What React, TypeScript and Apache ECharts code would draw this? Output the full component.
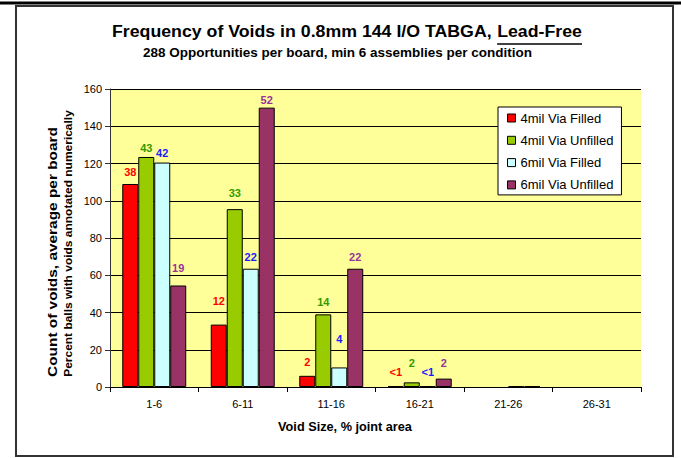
import React, { useEffect, useRef } from "react";
import * as echarts from "echarts";

const categories = ["1-6", "6-11", "11-16", "16-21", "21-26", "26-31"];
const seriesNames = ["4mil Via Filled", "4mil Via Unfilled", "6mil Via Filled", "6mil Via Unfilled"];
const via4Filled = [109, 33.5, 6, 0.5, 0, 0];
const via4Unfilled = [123.5, 95.5, 39, 2.5, 0, 0];
const via6Filled = [120.5, 63.5, 10.5, 0.4, 0.4, 0];
const via6Unfilled = [54.5, 150, 63.5, 4.5, 0.4, 0];
const pct4Filled = ["38", "12", "2", "<1", "", ""];
const pct4Unfilled = ["43", "33", "14", "2", "", ""];
const pct6Filled = ["42", "22", "4", "<1", "", ""];
const pct6Unfilled = ["19", "52", "22", "2", "", ""];
const yTicks = { min: 0, max: 160, interval: 20 };

// label distances (px above bar top), per series then category; layout only
const labelLift = [
  [6, 18, 8, 9],
  [3, 11, 7, 14],
  [4, 6, 23, 9],
  [12, 2, 6, 10],
];

const barColors = ["#ff0000", "#99cc00", "#ccffff", "#993366"];
const labelColors = ["#ff0000", "#339900", "#1a1aff", "#993399"];

const FONT = "'Liberation Sans', Arial, sans-serif";

function measure(text: string, font: string): number {
  const c = document.createElement("canvas").getContext("2d");
  if (!c) return text.length * 8;
  c.font = font;
  return c.measureText(text).width;
}

export default function App() {
  const ref = useRef<HTMLDivElement>(null);
  useEffect(() => {
    if (!ref.current) return;
    const chart = echarts.init(ref.current, undefined, { renderer: "svg" });
    const values = [via4Filled, via4Unfilled, via6Filled, via6Unfilled];
    const pcts = [pct4Filled, pct4Unfilled, pct6Filled, pct6Unfilled];

    const titleFont = "bold 17px " + FONT;
    const t1 = "Frequency of Voids in 0.8mm 144 I/O TABGA, ";
    const t2 = "Lead-Free";
    const w1 = measure(t1, titleFont);
    const w2 = measure(t2, titleFont);
    const titleLeft = 112;
    const titleRight = 582;
    const ts = (titleRight - titleLeft) / (w1 + w2);

    const fitText = (
      text: string,
      font: string,
      x: number,
      y: number,
      target: number,
      rotation = 0
    ) => ({
      type: "text",
      x,
      y,
      rotation,
      scaleX: target / measure(text, font),
      style: { text, font, fill: "#000", textAlign: "center", textVerticalAlign: "middle" },
    });

    const series = values.map((vals, si) => ({
      name: seriesNames[si],
      type: "bar",
      barGap: "0%",
      barCategoryGap: "27.7%",
      itemStyle: { color: barColors[si], borderColor: "#000", borderWidth: 1 },
      data: vals.map((v, ci) => {
        const lift = labelLift[si][ci] !== undefined ? labelLift[si][ci] : 5;
        return {
          value: v === 0 ? null : v,
          label: {
            show: pcts[si][ci] !== "",
            position: "top",
            distance: lift,
            formatter: pcts[si][ci] || "",
            color: labelColors[si],
            fontWeight: "bold",
            fontSize: 11,
            fontFamily: FONT,
          },
        };
      }),
    }));

    chart.setOption({
      animation: false,
      textStyle: { fontFamily: FONT },
      grid: {
        left: 110,
        top: 89,
        width: 531,
        height: 298,
        show: true,
        backgroundColor: "#ffff99",
        borderWidth: 0,
      },
      legend: {
        orient: "vertical",
        left: 498,
        top: 107,
        data: seriesNames,
        backgroundColor: "#ffffff",
        borderColor: "#000",
        borderWidth: 1,
        borderRadius: 0,
        padding: [4, 8, 3, 9],
        itemGap: 8.3,
        itemWidth: 8,
        itemHeight: 8,
        icon: "rect",
        itemStyle: { borderColor: "#000", borderWidth: 1 },
        textStyle: { fontSize: 13, lineHeight: 14, color: "#000", fontFamily: FONT },
      },
      xAxis: {
        type: "category",
        data: categories,
        axisLine: { lineStyle: { color: "#000", width: 1 } },
        axisTick: { show: true, length: 5, lineStyle: { color: "#000" } },
        axisLabel: { color: "#000", fontSize: 11, margin: 11, fontFamily: FONT },
      },
      yAxis: {
        type: "value",
        min: yTicks.min,
        max: yTicks.max,
        interval: yTicks.interval,
        axisLine: { show: true, lineStyle: { color: "#333", width: 1 } },
        axisTick: { show: true, length: 5, lineStyle: { color: "#333" } },
        axisLabel: { color: "#000", fontSize: 11, margin: 8, fontFamily: FONT },
        splitLine: { show: true, lineStyle: { color: "#000", width: 1 } },
      },
      series,
      graphic: [
        { type: "rect", shape: { x: 0, y: 1.5, width: 681, height: 3 }, style: { fill: "#000" }, z: 100 },
        {
          type: "rect",
          shape: { x: 16, y: 6, width: 657, height: 450 },
          style: { fill: "none", stroke: "#333", lineWidth: 2 },
          z: 100,
        },
        {
          type: "text",
          x: titleLeft,
          y: 31,
          scaleX: ts,
          style: { text: t1, font: titleFont, fill: "#000", textAlign: "left", textVerticalAlign: "middle" },
        },
        {
          type: "text",
          x: titleLeft + w1 * ts,
          y: 31,
          scaleX: ts,
          style: { text: t2, font: titleFont, fill: "#000", textAlign: "left", textVerticalAlign: "middle" },
        },
        {
          type: "line",
          shape: { x1: titleLeft + w1 * ts, y1: 44, x2: titleRight, y2: 44 },
          style: { stroke: "#000", lineWidth: 1.5 },
        },
        fitText(
          "288 Opportunities per board, min 6 assemblies per condition",
          "bold 12.5px " + FONT,
          337.5,
          53,
          389
        ),
        fitText("Count of voids, average per board", "bold 13px " + FONT, 52, 252, 250, Math.PI / 2),
        fitText(
          "Percent balls with voids annotated numerically",
          "bold 10.5px " + FONT,
          68,
          243.5,
          267,
          Math.PI / 2
        ),
        fitText("Void Size, % joint area", "bold 12.5px " + FONT, 345, 427, 134),
      ],
    });
    return () => chart.dispose();
  }, []);
  return (
    <div
      ref={ref}
      style={{ position: "fixed", left: 0, top: 0, width: 681, height: 458, background: "#fff" }}
    />
  );
}
